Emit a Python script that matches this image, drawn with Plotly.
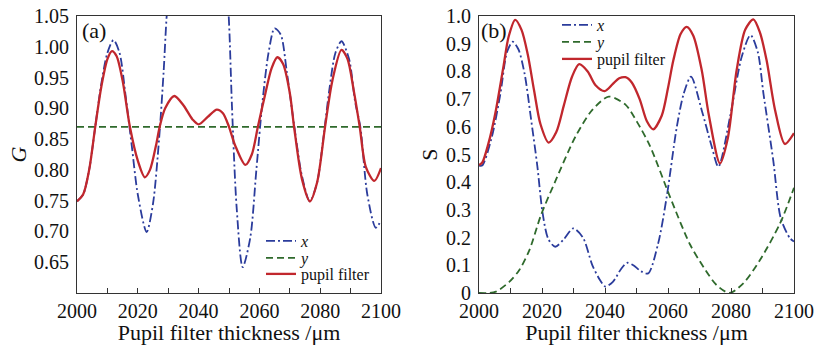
import plotly.graph_objects as go

# ---------------- data: panel (a) G ----------------
ga_x_t = [2000, 2002, 2004, 2006, 2008, 2010, 2012, 2014, 2016, 2018, 2020, 2022.9, 2025, 2027,
          2028.5, 2029.5, 2032, 2036, 2040, 2044, 2048, 2049.9, 2051, 2052.5, 2054.5, 2057, 2059,
          2061, 2063, 2065, 2067, 2069, 2071.5, 2074, 2076.6, 2079, 2081, 2083, 2085, 2087, 2089.5,
          2091.5, 2093.2, 2095.5, 2098.3, 2100]
ga_x_v = [0.749, 0.760, 0.800, 0.870, 0.940, 0.990, 1.011, 0.990, 0.920, 0.840, 0.760, 0.699, 0.745, 0.850,
          0.960, 1.050, 1.200, 1.350, 1.400, 1.350, 1.180, 1.050, 0.900, 0.740, 0.642, 0.690, 0.800,
          0.910, 0.990, 1.030, 1.020, 0.960, 0.870, 0.790, 0.749, 0.780, 0.850, 0.930, 0.990, 1.009, 0.980,
          0.910, 0.870, 0.760, 0.706, 0.718]

ga_y_t = [2000, 2100]
ga_y_v = [0.870, 0.870]

ga_p_t = [2000, 2002, 2004, 2006, 2008, 2010, 2011.5, 2013, 2015, 2017.4, 2020, 2022.3, 2024, 2026,
          2027.2, 2029, 2032, 2035, 2038, 2040, 2043, 2046, 2048, 2050, 2052, 2055.4, 2057.5, 2059.5,
          2062, 2064, 2065.9, 2067.8, 2070, 2071.4, 2074, 2076.6, 2079, 2081.6, 2084, 2087, 2089, 2091,
          2093, 2095, 2097.8, 2100]
ga_p_v = [0.749, 0.760, 0.800, 0.870, 0.935, 0.980, 0.993, 0.985, 0.945, 0.870, 0.815, 0.788, 0.800, 0.840,
          0.870, 0.900, 0.920, 0.905, 0.882, 0.874, 0.886, 0.898, 0.892, 0.870, 0.840, 0.808, 0.825, 0.870,
          0.925, 0.965, 0.983, 0.972, 0.925, 0.870, 0.785, 0.749, 0.780, 0.870, 0.945, 0.995, 0.980, 0.930,
          0.870, 0.805, 0.782, 0.803]

# ---------------- data: panel (b) S ----------------
sb_x_t = [2000, 2001, 2004, 2006.8, 2008.9, 2010.7, 2012.5, 2014.5, 2016.5, 2018.5, 2020.2, 2022, 2024.2,
          2027, 2029.9, 2033, 2036, 2038.5, 2040.1, 2042.5, 2045, 2047, 2049, 2051.5, 2053.7, 2056.9, 2059.6,
          2062.8, 2065, 2067.3, 2070.7, 2073.9, 2076, 2079.7, 2083.4, 2086.2, 2088.5, 2090.3, 2093.4, 2095.8,
          2098.7, 2100]
sb_x_v = [0.460, 0.460, 0.560, 0.720, 0.870, 0.907, 0.880, 0.790, 0.630, 0.460, 0.288, 0.195, 0.167,
          0.195, 0.233, 0.200, 0.100, 0.045, 0.023, 0.040, 0.085, 0.109, 0.100, 0.078, 0.071, 0.180, 0.348,
          0.600, 0.720, 0.781, 0.660, 0.528, 0.456, 0.636, 0.853, 0.931, 0.870, 0.720, 0.480, 0.270,
          0.198, 0.186]

sb_y_t = [2000, 2003, 2005.4, 2009.6, 2012.8, 2016, 2019.7, 2024.4, 2030.6, 2035.9, 2041.2, 2046.5,
          2050.2, 2054.3, 2060.6, 2067, 2071.2, 2075.4, 2079.5, 2083.9, 2089.2, 2095.6, 2100]
sb_y_v = [0.000, 0.000, 0.005, 0.040, 0.083, 0.155, 0.282, 0.408, 0.564, 0.660, 0.709, 0.680,
          0.617, 0.530, 0.348, 0.175, 0.095, 0.029, 0.000, 0.035, 0.119, 0.252, 0.380]

sb_p_t = [2000, 2001, 2003, 2005.2, 2007.8, 2009.4, 2011.5, 2013.5, 2015.5, 2017.5, 2019.5, 2022.1,
          2024.5, 2027, 2029.5, 2031.8, 2034.5, 2037, 2039.9, 2042.5, 2044.5, 2046.5, 2048.5, 2051,
          2053.3, 2055.3, 2058, 2060, 2061.7, 2064, 2065.9, 2068, 2070.7, 2073, 2076.5, 2079, 2081.8, 2084.5,
          2087.1, 2089.2, 2091.3, 2094, 2097.1, 2100]
sb_p_v = [0.462, 0.470, 0.540, 0.650, 0.820, 0.925, 0.986, 0.950, 0.860, 0.730, 0.610, 0.543,
          0.580, 0.680, 0.780, 0.826, 0.800, 0.750, 0.729, 0.755, 0.775, 0.779, 0.760, 0.700,
          0.620, 0.591, 0.640, 0.740, 0.840, 0.935, 0.961, 0.930, 0.805, 0.640, 0.468, 0.560, 0.805, 0.950,
          0.988, 0.940, 0.840, 0.660, 0.538, 0.577]

ga_ticks = [0.65, 0.70, 0.75, 0.80, 0.85, 0.90, 0.95, 1.00, 1.05]
ga_ticktext = ["0.65", "0.70", "0.75", "0.80", "0.85", "0.90", "0.95", "1.00", "1.05"]
sb_ticks = [0, 0.1, 0.2, 0.3, 0.4, 0.5, 0.6, 0.7, 0.8, 0.9, 1.0]
sb_ticktext = ["0", "0.1", "0.2", "0.3", "0.4", "0.5", "0.6", "0.7", "0.8", "0.9", "1.0"]
x_ticks = [2000, 2020, 2040, 2060, 2080, 2100]
x_ticktext = ["2000", "2020", "2040", "2060", "2080", "2100"]
series_names = ["<i>x</i>", "<i>y</i>", "pupil filter"]

BLUE = "#2b3c9c"
GREEN = "#2f6a2c"
RED = "#c1272d"
FONT = "Liberation Serif"
TXT = "#111111"
W, H = 818, 345

fig = go.Figure()

def add(xs, ys, name, color, dash, width, xa, ya, legend):
    fig.add_trace(go.Scatter(
        x=xs, y=ys, mode="lines", name=name,
        line=dict(color=color, dash=dash, width=width, shape="spline", smoothing=0.8),
        xaxis=xa, yaxis=ya, legend=legend, showlegend=True))

DASHDOT = "9px,3px,2px,3px"
DASH = "7px,4px"
add(ga_x_t, ga_x_v, series_names[0], BLUE, DASHDOT, 1.8, "x", "y", "legend")
add(ga_y_t, ga_y_v, series_names[1], GREEN, DASH, 1.8, "x", "y", "legend2")
add(ga_p_t, ga_p_v, series_names[2], RED, "solid", 2.3, "x", "y", "legend3")
add(sb_x_t, sb_x_v, series_names[0], BLUE, DASHDOT, 1.8, "x2", "y2", "legend4")
add(sb_y_t, sb_y_v, series_names[1], GREEN, DASH, 1.8, "x2", "y2", "legend5")
add(sb_p_t, sb_p_v, series_names[2], RED, "solid", 2.3, "x2", "y2", "legend6")

yd = [1 - 293 / H, 1 - 16 / H]

xaxis_common = dict(range=[2000, 2100], tickvals=x_ticks, ticktext=x_ticktext, automargin=False,
                    showline=True, linecolor="#333333", linewidth=1.2, mirror=True,
                    ticks="inside", ticklen=5, tickcolor="#333333", ticklabelstandoff=0,
                    minor=dict(ticks="inside", ticklen=5, dtick=10, tick0=2000, tickcolor="#333333"),
                    showgrid=False, zeroline=False,
                    tickfont=dict(family=FONT, size=20, color=TXT),
                    title=dict(text="Pupil filter thickness /μm", standoff=5,
                               font=dict(family=FONT, size=22, color=TXT)))
yaxis_common = dict(showline=True, linecolor="#333333", linewidth=1.2, mirror=True, automargin=False,
                    ticks="", showgrid=False, zeroline=False, ticklabelstandoff=3,
                    tickfont=dict(family=FONT, size=20, color=TXT))

def leg(px, py):
    return dict(x=px / W, y=1 - py / H, xanchor="left", yanchor="middle",
                bgcolor="rgba(0,0,0,0)", itemwidth=30, borderwidth=0,
                font=dict(family=FONT, size=16, color=TXT))

fig.update_layout(
    width=W, height=H, margin=dict(l=0, r=0, t=0, b=0, autoexpand=False),
    paper_bgcolor="white", plot_bgcolor="white",
    font=dict(family=FONT, color=TXT),
    xaxis=dict(domain=[77 / W, 381 / W], anchor="y", **xaxis_common),
    xaxis2=dict(domain=[479 / W, 794 / W], anchor="y2", **xaxis_common),
    yaxis=dict(domain=yd, anchor="x", range=[0.60, 1.05], tickvals=ga_ticks, ticktext=ga_ticktext,
               title=dict(text="<i>G</i>", standoff=1, font=dict(family=FONT, size=22, color=TXT)),
               **yaxis_common),
    yaxis2=dict(domain=yd, anchor="x2", range=[0, 1.0], tickvals=sb_ticks, ticktext=sb_ticktext,
                title=dict(text="S", standoff=2, font=dict(family=FONT, size=22, color=TXT)),
                **yaxis_common),
    legend=leg(261, 241), legend2=leg(261, 258), legend3=leg(261, 274),
    legend4=leg(557, 25), legend5=leg(557, 42), legend6=leg(557, 59),
    annotations=[
        dict(text="(a)", x=2000, y=1.05, xref="x", yref="y", xanchor="left", yanchor="top",
             xshift=3, yshift=0, showarrow=False, font=dict(family=FONT, size=22, color=TXT)),
        dict(text="(b)", x=2000, y=1.0, xref="x2", yref="y2", xanchor="left", yanchor="top",
             xshift=0, yshift=0, showarrow=False, font=dict(family=FONT, size=22, color=TXT)),
    ],
)

fig.write_html("out.html")
